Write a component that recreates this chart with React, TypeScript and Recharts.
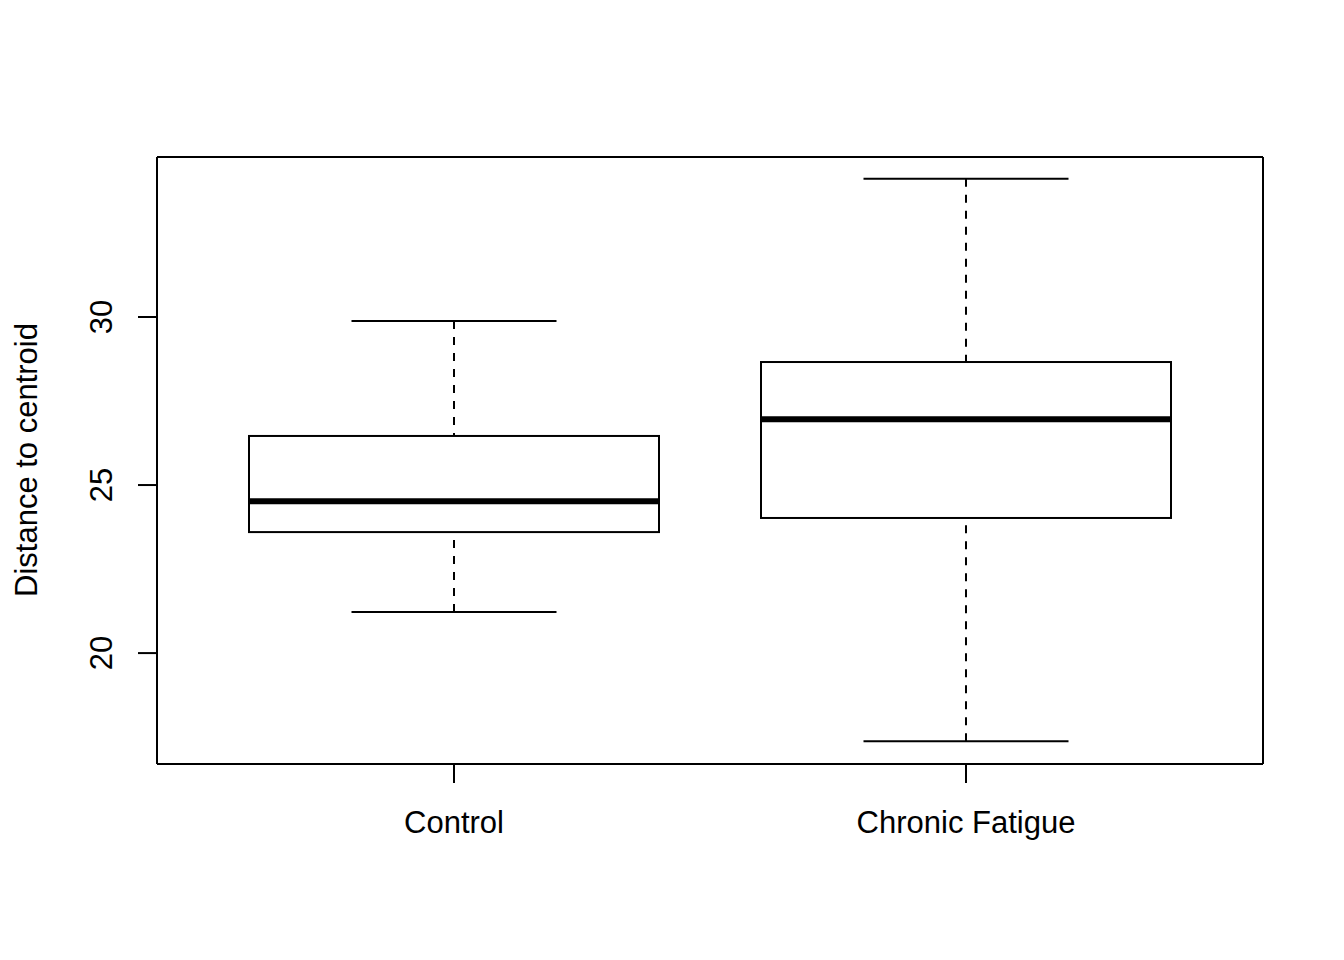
import React from "react";
import { Bar, ComposedChart, Label, XAxis, YAxis } from "recharts";

const groups = ["Control", "Chronic Fatigue"];
const whiskerLow = [21.22, 17.38];
const q1 = [23.6, 24.02];
const median = [24.52, 26.96];
const q3 = [26.46, 28.66];
const whiskerHigh = [29.88, 34.11];
const yTicks = [20, 25, 30];

const data = groups.map((g, i) => ({
  group: g,
  lo: whiskerLow[i],
  q1: q1[i],
  med: median[i],
  q3: q3[i],
  hi: whiskerHigh[i],
}));

const FONT = "Liberation Sans, Arial, sans-serif";
const DOMAIN: [number, number] = [16.7, 34.76];

function BoxShape(props: any) {
  const { x, y, width, height, payload } = props;
  const d = payload;
  // y = pixel of hi, y + height = pixel of lo (linear scale)
  const py = (v: number) => y + ((d.hi - v) / (d.hi - d.lo)) * height;
  const cx = x + width / 2;
  const cap = width / 4;
  return (
    <g>
      <line x1={cx} y1={py(d.hi)} x2={cx} y2={py(d.q3)} stroke="#000" strokeWidth={2} strokeDasharray="8 8" />
      <line x1={cx} y1={py(d.lo)} x2={cx} y2={py(d.q1)} stroke="#000" strokeWidth={2} strokeDasharray="8 8" />
      <line x1={cx - cap} y1={py(d.hi)} x2={cx + cap} y2={py(d.hi)} stroke="#000" strokeWidth={2} />
      <line x1={cx - cap} y1={py(d.lo)} x2={cx + cap} y2={py(d.lo)} stroke="#000" strokeWidth={2} />
      <rect x={x} y={py(d.q3)} width={width} height={py(d.q1) - py(d.q3)} fill="#fff" stroke="#000" strokeWidth={2} />
      <line x1={x} y1={py(d.med)} x2={x + width} y2={py(d.med)} stroke="#000" strokeWidth={6} />
    </g>
  );
}

const XTick = (props: any) => {
  const { x, y, payload } = props;
  return (
    <text x={x} y={y + 50} textAnchor="middle" fontFamily={FONT} fontSize={31} fill="#000">
      {payload.value}
    </text>
  );
};

const YTick = (props: any) => {
  const { x, y, payload } = props;
  const bx = x - 26;
  return (
    <text
      x={bx}
      y={y}
      textAnchor="middle"
      transform={`rotate(-90, ${bx}, ${y})`}
      fontFamily={FONT}
      fontSize={31}
      fill="#000"
    >
      {payload.value}
    </text>
  );
};

export default function App() {
  return (
    <div style={{ position: "absolute", left: 0, top: 0, background: "#fff" }}>
      <ComposedChart
        width={1344}
        height={960}
        data={data}
        margin={{ top: 156, right: 80, bottom: 96, left: 0 }}
      >
        <XAxis
          dataKey="group"
          xAxisId="main"
          height={100}
          padding={{ left: 41, right: 41 }}
          axisLine={{ stroke: "#000", strokeWidth: 2 }}
          tickLine={{ stroke: "#000", strokeWidth: 2 }}
          tickSize={19}
          tickMargin={0}
          tick={<XTick />}
          interval={0}
        />
        <XAxis
          dataKey="group"
          xAxisId="top"
          orientation="top"
          height={1}
          padding={{ left: 41, right: 41 }}
          axisLine={{ stroke: "#000", strokeWidth: 2 }}
          tick={false}
          tickLine={false}
        />
        <YAxis
          yAxisId="main"
          width={157}
          type="number"
          domain={DOMAIN}
          allowDataOverflow
          ticks={yTicks}
          axisLine={{ stroke: "#000", strokeWidth: 2 }}
          tickLine={{ stroke: "#000", strokeWidth: 2 }}
          tickSize={19}
          tickMargin={0}
          tick={<YTick />}
        >
          <Label
            content={() => (
              <text
                x={37}
                y={460}
                textAnchor="middle"
                transform="rotate(-90, 37, 460)"
                fontFamily={FONT}
                fontSize={31}
                fill="#000"
              >
                Distance to centroid
              </text>
            )}
          />
        </YAxis>
        <YAxis
          yAxisId="right"
          orientation="right"
          width={1}
          type="number"
          domain={DOMAIN}
          allowDataOverflow
          axisLine={{ stroke: "#000", strokeWidth: 2 }}
          tick={false}
          tickLine={false}
        />
        <Bar
          xAxisId="main"
          yAxisId="main"
          dataKey={(d: any) => [d.lo, d.hi]}
          barSize={410}
          shape={<BoxShape />}
          isAnimationActive={false}
        />
        <Bar
          xAxisId="top"
          yAxisId="right"
          dataKey={(d: any) => [d.lo, d.lo]}
          fill="none"
          isAnimationActive={false}
        />
      </ComposedChart>
    </div>
  );
}
